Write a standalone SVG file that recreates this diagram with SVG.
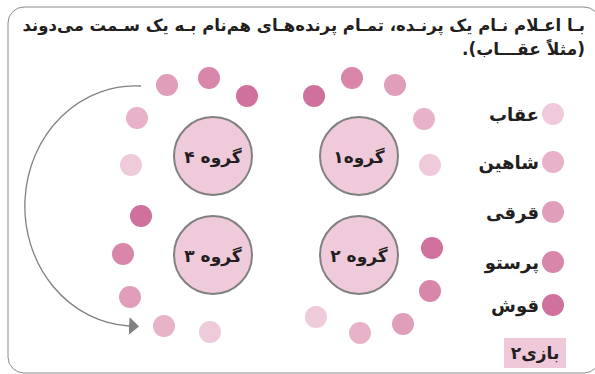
<svg xmlns="http://www.w3.org/2000/svg" width="595" height="374" viewBox="0 0 595 374">
<style>
.t{font-family:"DejaVu Sans","Noto Sans",sans-serif;font-weight:bold;fill:#231f20}
.big{fill:#efcadb;stroke:#808080;stroke-width:2}
.c1{fill:#efcadb}.c2{fill:#e8b3c9}.c3{fill:#e09ebb}.c4{fill:#d887ab}.c5{fill:#cf719c}
.lbl{font-size:17px;text-anchor:middle}
.leg{font-size:18px}
</style>
<defs>
<marker id="ah" viewBox="0 0 10 18" refX="0" refY="9" markerWidth="10" markerHeight="18" markerUnits="userSpaceOnUse" orient="auto">
<path d="M0,0 L10,9 L0,18 Z" fill="#808080"/>
</marker>
</defs>
<rect x="8" y="7" width="592" height="366" rx="16" fill="#fff" stroke="#8a8a8a" stroke-width="1"/>
<g id="title">
<text class="t" x="585" y="31" font-size="16.5" direction="rtl" text-anchor="start">بـا اعـلام نـام یک پرنـده، تمـام پرنده‌هـای هم‌نام بـه یک سـمت می‌دوند</text>
<text class="t" x="585" y="55" font-size="17" direction="rtl" text-anchor="start">(مثلاً عقـــاب).</text>
</g>
<g id="connectors">
<path d="M141,86 A110,120 0 0 0 129,326" fill="none" stroke="#808080" stroke-width="1.3" marker-end="url(#ah)"/>
</g>
<g id="group4">
<circle class="big" cx="213" cy="156" r="39"/>
<text class="t lbl" x="213" y="163">گروه ۴</text>
<circle class="c3" cx="167" cy="85" r="11"/>
<circle class="c4" cx="209" cy="78" r="11"/>
<circle class="c5" cx="247" cy="96" r="11"/>
<circle class="c2" cx="137" cy="118" r="11"/>
<circle class="c1" cx="131" cy="165" r="11"/>
</g>
<g id="group1">
<circle class="big" cx="359" cy="156" r="39"/>
<text class="t lbl" x="359" y="163">گروه۱</text>
<circle class="c5" cx="314" cy="96" r="11"/>
<circle class="c4" cx="352" cy="78" r="11"/>
<circle class="c3" cx="395" cy="85" r="11"/>
<circle class="c2" cx="424" cy="119" r="11"/>
<circle class="c1" cx="430" cy="165" r="11"/>
</g>
<g id="group3">
<circle class="big" cx="213" cy="255" r="39"/>
<text class="t lbl" x="213" y="262">گروه ۳</text>
<circle class="c5" cx="141" cy="216" r="11"/>
<circle class="c4" cx="123" cy="254" r="11"/>
<circle class="c3" cx="130" cy="297" r="11"/>
<circle class="c2" cx="164" cy="326" r="11"/>
<circle class="c1" cx="210" cy="332" r="11"/>
</g>
<g id="group2">
<circle class="big" cx="359" cy="255" r="39"/>
<text class="t lbl" x="359" y="262">گروه ۲</text>
<circle class="c5" cx="432" cy="248" r="11"/>
<circle class="c4" cx="430" cy="291" r="11"/>
<circle class="c3" cx="403" cy="324" r="11"/>
<circle class="c2" cx="360" cy="333" r="11"/>
<circle class="c1" cx="316" cy="317" r="11"/>
</g>
<g id="legend">
<circle class="c1" cx="553" cy="114" r="11"/>
<text class="t leg" x="539" y="121" text-anchor="end">عقاب</text>
<circle class="c2" cx="553" cy="162" r="11"/>
<text class="t leg" x="539" y="169" text-anchor="end">شاهین</text>
<circle class="c3" cx="553" cy="212" r="11"/>
<text class="t leg" x="539" y="219" text-anchor="end">قرقی</text>
<circle class="c4" cx="553" cy="262" r="11"/>
<text class="t leg" x="539" y="269" text-anchor="end">پرستو</text>
<circle class="c5" cx="553" cy="305" r="11"/>
<text class="t leg" x="539" y="312" text-anchor="end">قوش</text>
</g>
<g id="game-label">
<rect x="504" y="338" width="62" height="30" fill="#efc8da"/>
<text class="t" x="535" y="359" font-size="17" text-anchor="middle">بازی۲</text>
</g>
</svg>
